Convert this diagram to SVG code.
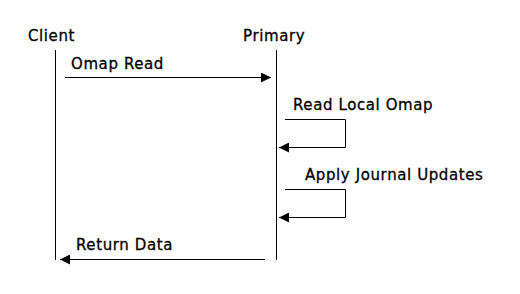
<svg xmlns="http://www.w3.org/2000/svg" width="520" height="294" viewBox="0 0 520 294">
<style>
text{font-family:"DejaVu Sans",sans-serif;font-size:15px;letter-spacing:0.6px;fill:#000;stroke:#000;stroke-width:0.3}
.l{stroke:#000;stroke-width:1;fill:none}
</style>
<defs>
<marker id="ah" viewBox="0 0 10 10" refX="10" refY="5" markerWidth="10" markerHeight="10" markerUnits="userSpaceOnUse" orient="auto"><path d="M0,0L10,5L0,10z" fill="#000"/></marker>
</defs>
<rect width="520" height="294" fill="#fff"/>
<g id="client"><text x="28" y="41">Client</text><line class="l" x1="55.5" y1="50" x2="55.5" y2="260"/></g>
<g id="primary"><text x="243" y="41">Primary</text><line class="l" x1="276.5" y1="50" x2="276.5" y2="260"/></g>
<g id="connectors">
<line class="l" x1="65" y1="77.5" x2="271" y2="77.5" marker-end="url(#ah)"/>
<text x="71" y="69">Omap Read</text>
<polyline class="l" points="285,119.5 345.5,119.5 345.5,147.5 279,147.5" marker-end="url(#ah)"/>
<text x="293" y="110">Read Local Omap</text>
<polyline class="l" points="285,189.5 345.5,189.5 345.5,217.5 279,217.5" marker-end="url(#ah)"/>
<text x="305" y="180">Apply Journal Updates</text>
<line class="l" x1="265" y1="259.5" x2="60" y2="259.5" marker-end="url(#ah)"/>
<text x="76" y="250">Return Data</text>
</g>
</svg>
